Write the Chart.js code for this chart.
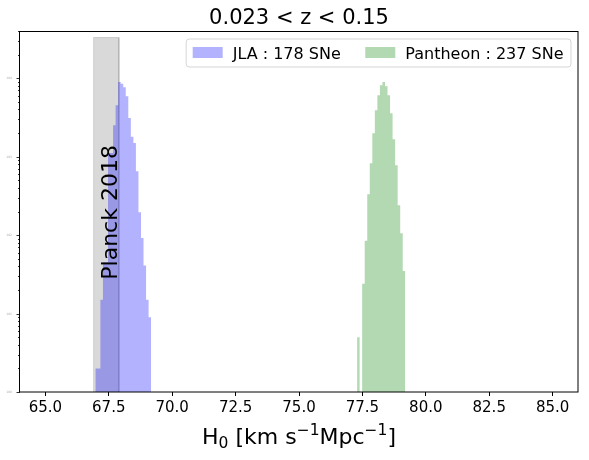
<!DOCTYPE html>
<html><head><meta charset="utf-8">
<script src="https://cdn.jsdelivr.net/npm/chart.js@4"></script>
<style>html,body{margin:0;padding:0;background:#fff}#wrap{width:589px;height:460px;position:relative}</style>
</head><body><div id="wrap"><canvas id="c" width="589" height="460"></canvas></div>
<script>
// ---- data ----
const titleText = '0.023 < z < 0.15';
const xTickValues = [65.0, 67.5, 70.0, 72.5, 75.0, 77.5, 80.0, 82.5, 85.0];
const seriesLabels = ['JLA : 178 SNe', 'Pantheon : 237 SNe'];
const planckLabel = 'Planck 2018';

// JLA histogram: bin edges (H0) and counts
const jlaEdges = [66.97, 67.07, 67.17, 67.27, 67.37, 67.47, 67.57, 67.67, 67.77, 67.87, 67.97,
                  68.07, 68.17, 68.27, 68.37, 68.47, 68.57, 68.67, 68.77, 68.87, 68.97, 69.07, 69.17];
const jlaCounts = [2, 2, 15, 45, 45, 1110, 1110, 2520, 4530, 8980, 8510,
                   7680, 5900, 3120, 1790, 1490, 653, 196, 92, 41, 15, 9];

// Pantheon histogram: bin edges (H0) and counts
const pantheonEdges = [77.29, 77.39, 77.49, 77.59, 77.69, 77.79, 77.89, 77.99, 78.09, 78.19,
                       78.29, 78.39, 78.49, 78.59, 78.69, 78.79, 78.89, 78.99, 79.09, 79.19];
const pantheonCounts = [5, 0, 24, 85, 333, 826, 1990, 3910, 6070, 8150,
                        8980, 7910, 6070, 3580, 1670, 780, 241, 106, 35];

// Planck 2018 band
const planckH0 = 67.4;
const planckSigma = 0.5;
const planckBandTop = 33000;

// ---- chart ----
const yMin = 1, yMax = 40000;
const FONT = '"DejaVu Sans", "Liberation Sans", sans-serif';

function histPoints(edges, counts) {
  const pts = [{x: edges[0], y: yMin}];
  counts.forEach((c, i) => pts.push({x: edges[i], y: c > 0 ? c : yMin}));
  pts.push({x: edges[edges.length - 1], y: yMin});
  return pts;
}
const planckPoints = [
  {x: planckH0 - planckSigma, y: yMin},
  {x: planckH0 - planckSigma, y: planckBandTop},
  {x: planckH0 + planckSigma, y: planckBandTop},
  {x: planckH0 + planckSigma, y: yMin}
];

const colors = ['rgba(0,0,255,0.3)', 'rgba(0,128,0,0.3)'];

function drawRich(ctx, segs, cx, baseline, align) {
  let total = 0;
  segs.forEach(s => { ctx.font = s.size + 'px ' + FONT; s.w = ctx.measureText(s.t).width; total += s.w; });
  let x = align === 'center' ? cx - total / 2 : cx;
  ctx.textAlign = 'left';
  ctx.textBaseline = 'alphabetic';
  segs.forEach(s => { ctx.font = s.size + 'px ' + FONT; ctx.fillText(s.t, x, baseline + (s.dy || 0)); x += s.w; });
}

const decor = {
  id: 'decor',
  afterDatasetsDraw(chart) {
    const ctx = chart.ctx, xs = chart.scales.x, ys = chart.scales.y;
    ctx.save();
    ctx.fillStyle = '#000';
    ctx.font = '22px ' + FONT;
    ctx.translate(xs.getPixelForValue(67.81), ys.getPixelForValue(27));
    ctx.rotate(-Math.PI / 2);
    ctx.textAlign = 'left';
    ctx.textBaseline = 'alphabetic';
    ctx.fillText(planckLabel, 0, 0);
    ctx.restore();
  },
  afterDraw(chart) {
    const ctx = chart.ctx, a = chart.chartArea, ys = chart.scales.y;
    ctx.save();
    // y ticks (log)
    ctx.strokeStyle = '#000';
    ctx.lineWidth = 0.8;
    for (let e = 0; e <= 4; e++) {
      for (let m = 1; m <= 9; m++) {
        const v = m * Math.pow(10, e);
        if (v < yMin || v > yMax) continue;
        const py = Math.round(ys.getPixelForValue(v)) + 0.5;
        const len = m === 1 ? 3.5 : 2;
        ctx.beginPath();
        ctx.moveTo(a.left - len, py);
        ctx.lineTo(a.left, py);
        ctx.stroke();
        if (m === 1) {
          ctx.fillStyle = '#aaa';
          ctx.font = '3px ' + FONT;
          ctx.textAlign = 'right';
          ctx.textBaseline = 'middle';
          ctx.fillText('10' + e, a.left - 8, py);
        }
      }
    }
    // frame
    ctx.lineWidth = 1;
    ctx.strokeStyle = '#000';
    ctx.strokeRect(Math.round(a.left) - 0.5, Math.round(a.top) + 0.5,
                   Math.round(a.right - a.left) + 0.5, Math.round(a.bottom - a.top) - 0.5);
    // legend
    const fs = 16;
    ctx.font = fs + 'px ' + FONT;
    const w1 = ctx.measureText(seriesLabels[0]).width;
    const w2 = ctx.measureText(seriesLabels[1]).width;
    const pad = 7, hl = 30, tp = 10, cs = 24.5;
    const bw = pad * 2 + hl * 2 + tp * 2 + w1 + w2 + cs;
    const bh = 28;
    const bx = a.right - 7.5 - bw, by = a.top + 7.5;
    ctx.beginPath();
    ctx.roundRect(bx + 0.5, by + 0.5, bw, bh, 3);
    ctx.fillStyle = 'rgba(255,255,255,0.8)';
    ctx.fill();
    ctx.strokeStyle = 'rgba(204,204,204,0.8)';
    ctx.lineWidth = 1;
    ctx.stroke();
    const cy = by + bh / 2;
    let x = bx + pad;
    [0, 1].forEach(i => {
      ctx.fillStyle = colors[i];
      ctx.fillRect(x, cy - 5.5, hl, 11);
      x += hl + tp;
      ctx.fillStyle = '#000';
      ctx.font = fs + 'px ' + FONT;
      ctx.textAlign = 'left';
      ctx.textBaseline = 'alphabetic';
      ctx.fillText(seriesLabels[i], x, cy + 6);
      x += (i === 0 ? w1 : w2) + cs;
    });
    // title
    ctx.fillStyle = '#000';
    ctx.font = '21px ' + FONT;
    ctx.textAlign = 'center';
    ctx.textBaseline = 'alphabetic';
    ctx.fillText(titleText, (a.left + a.right) / 2, 24);
    // x label
    drawRich(ctx, [
      {t: 'H', size: 22},
      {t: '0', size: 15.5, dy: 4},
      {t: ' [km s', size: 22},
      {t: '\u22121', size: 15.5, dy: -9},
      {t: 'Mpc', size: 22},
      {t: '\u22121', size: 15.5, dy: -9},
      {t: ']', size: 22}
    ], (a.left + a.right) / 2, 444, 'center');
    ctx.restore();
  }
};

new Chart(document.getElementById('c'), {
  type: 'line',
  data: {
    datasets: [
      {label: seriesLabels[0], data: histPoints(jlaEdges, jlaCounts), stepped: 'before',
       fill: 'start', backgroundColor: colors[0], borderColor: 'transparent', borderWidth: 0, pointRadius: 0},
      {label: seriesLabels[1], data: histPoints(pantheonEdges, pantheonCounts), stepped: 'before',
       fill: 'start', backgroundColor: colors[1], borderColor: 'transparent', borderWidth: 0, pointRadius: 0},
      {label: planckLabel, data: planckPoints, fill: 'start', tension: 0,
       backgroundColor: 'rgba(128,128,128,0.3)', borderColor: 'rgba(128,128,128,0.3)', borderWidth: 1, pointRadius: 0}
    ]
  },
  options: {
    responsive: false,
    animation: false,
    devicePixelRatio: 1,
    events: [],
    layout: {padding: {left: 20, right: 11, top: 31, bottom: 0}},
    plugins: {legend: {display: false}, tooltip: {enabled: false}, title: {display: false}},
    scales: {
      x: {
        type: 'linear', min: 64, max: 86,
        afterBuildTicks: s => { s.ticks = xTickValues.map(v => ({value: v})); },
        afterFit: s => { s.height = 68; },
        ticks: {autoSkip: false, maxRotation: 0, color: '#000', padding: 3,
                font: {family: FONT, size: 15}, callback: v => Number(v).toFixed(1)},
        grid: {drawOnChartArea: false, drawTicks: true, tickLength: 4, color: '#000', lineWidth: 1},
        border: {display: false}
      },
      y: {
        type: 'logarithmic', min: yMin, max: yMax, display: false
      }
    }
  },
  plugins: [decor]
});
</script>
</body></html>
